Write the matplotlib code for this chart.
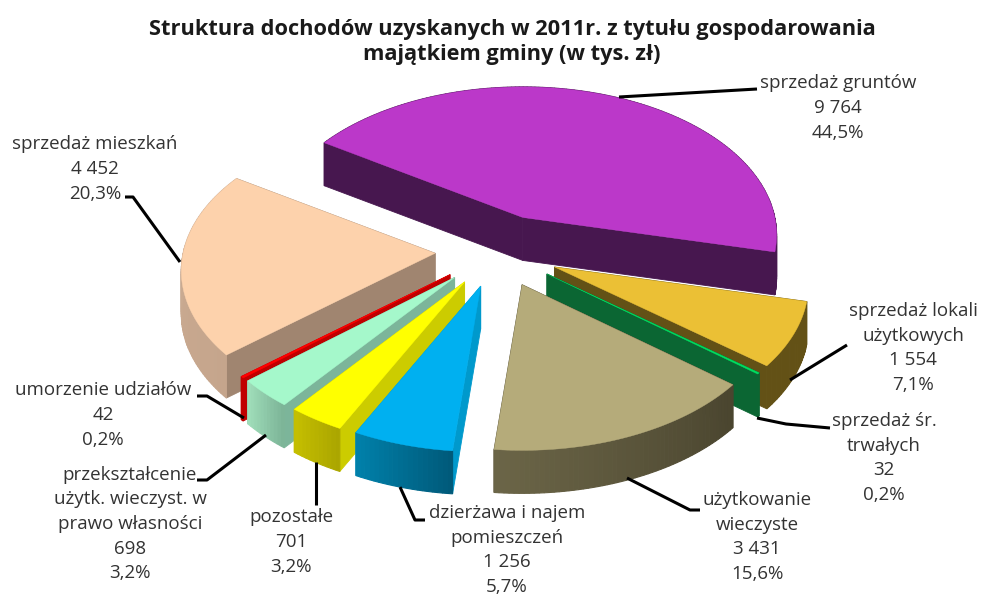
#!/usr/bin/env python3
import numpy as np
import matplotlib
matplotlib.use("Agg")
import matplotlib.pyplot as plt
from matplotlib.patches import Polygon

plt.rcParams['font.family'] = ['Open Sans', 'DejaVu Sans']

# data, clockwise from the purple slice
categories = ["sprzedaż gruntów", "sprzedaż lokali\nużytkowych", "sprzedaż śr.\ntrwałych",
              "użytkowanie\nwieczyste", "dzierżawa i najem\npomieszczeń", "pozostałe",
              "przekształcenie\nużytk. wieczyst. w\nprawo własności", "umorzenie udziałów",
              "sprzedaż mieszkań"]
values = [9764, 1554, 32, 3431, 1256, 701, 698, 42, 4452]
shares = ["44,5%", "7,1%", "0,2%", "15,6%", "5,7%", "3,2%", "3,2%", "0,2%", "20,3%"]

top_colors = ["#BB38C9", "#EBC035", "#00E060", "#B5AB7A", "#00B0F0", "#FFFF00", "#A5F8CB", "#FF0000", "#FDD2AC"]
side_colors = ["#47174F", "#635116", "#0B6633", "#4A452F", "#0099CC", "#CCCC00", "#7CB59A", "#C00000", "#A08570"]
rim_right = ["#47174F", "#635116", "#0B6633", "#4A452F", "#005A7A", "#ABA600", "#7DB598", "#C00000", "#C5A58C"]
rim_left = ["#47174F", "#635116", "#0B6633", "#6B6547", "#0080AA", "#C4BE00", "#9FDDB9", "#C00000", "#CDAE95"]

# chart geometry (pixels of the 986x595 picture)
CX, CY = 498, 251
RX, RY = 252, 146
PERSP = 0.1186
EXPLODE = 0.25
DEPTH = 43
START = 147


def rim_point(apex, deg):
    u, v = np.cos(np.radians(deg)), np.sin(np.radians(deg))
    w = 1 + PERSP * v
    return apex[0] + RX * u / w, apex[1] - RY * v / w


def mix(c1, c2, t):
    a, b = np.array(matplotlib.colors.to_rgb(c1)), np.array(matplotlib.colors.to_rgb(c2))
    return tuple(a + (b - a) * t)


fig = plt.figure(figsize=(9.86, 5.95), dpi=100)
ax = fig.add_axes([0, 0, 1, 1])
ax.set_xlim(0, 986)
ax.set_ylim(595, 0)
ax.axis("off")

sweeps = np.array(values) / sum(values) * 360
ends = START - np.cumsum(sweeps)
starts = ends + sweeps
mids = (starts + ends) / 2
apexes = [(CX + RX * EXPLODE * np.cos(np.radians(m)), CY - RY * EXPLODE * np.sin(np.radians(m))) for m in mids]

# far slices first
order = sorted(range(len(values)), key=lambda n: apexes[n][1])
for z, i in enumerate(order):
    apex = apexes[i]
    angles = np.linspace(starts[i], ends[i], max(int(sweeps[i]), 2) + 1)
    rim = [rim_point(apex, a) for a in angles]
    down = lambda p: (p[0], p[1] + DEPTH)
    for end_pt in (rim[0], rim[-1]):
        ax.add_patch(Polygon([apex, end_pt, down(end_pt), down(apex)], fc=side_colors[i],
                             ec=side_colors[i], lw=0.6, zorder=z + 1))
    for j in range(len(rim) - 1):
        col = mix(rim_right[i], rim_left[i], j / max(len(rim) - 2, 1))
        ax.add_patch(Polygon([rim[j], rim[j + 1], down(rim[j + 1]), down(rim[j])], fc=col, ec=col,
                             lw=0.8, zorder=z + 1))
    ax.add_patch(Polygon([apex] + rim, fc=top_colors[i], ec=top_colors[i], lw=0.3, zorder=z + 1))

# leader lines
leaders = [
    [(619, 97), (757, 89)],
    [(790, 380), (847, 345)],
    [(757, 418), (786, 424), (830, 428)],
    [(627, 478), (690, 510), (700, 510)],
    [(400, 487), (415, 520), (425, 520)],
    [(316, 462), (316, 505)],
    [(266, 435), (207, 480), (197, 480)],
    [(244, 418), (207, 396), (197, 396)],
    [(180, 262), (133, 197), (125, 197)],
]
for pts in leaders:
    xs, ys = zip(*pts)
    ax.plot(xs, ys, color="black", lw=2.2, zorder=30, solid_capstyle="butt")

# label centres
label_pos = [(838, 108), (913, 348), (884, 458), (757, 537), (507, 550), (291, 542), (130, 524), (103, 415), (95, 169)]
for cat, val, pct, (x, y) in zip(categories, values, shares, label_pos):
    txt = "%s\n%s\n%s" % (cat, f"{val:,}".replace(",", " "), pct)
    ax.text(x, y, txt, ha="center", va="center", fontsize=13.5, color="#333333", linespacing=1.48, zorder=40)

ax.text(512, 42, "Struktura dochodów uzyskanych w 2011r. z tytułu gospodarowania\nmajątkiem gminy (w tys. zł)",
        ha="center", va="center", fontsize=15.7, fontweight="bold", color="#1a1a1a", linespacing=1.3)

fig.savefig("out.png", dpi=100)
